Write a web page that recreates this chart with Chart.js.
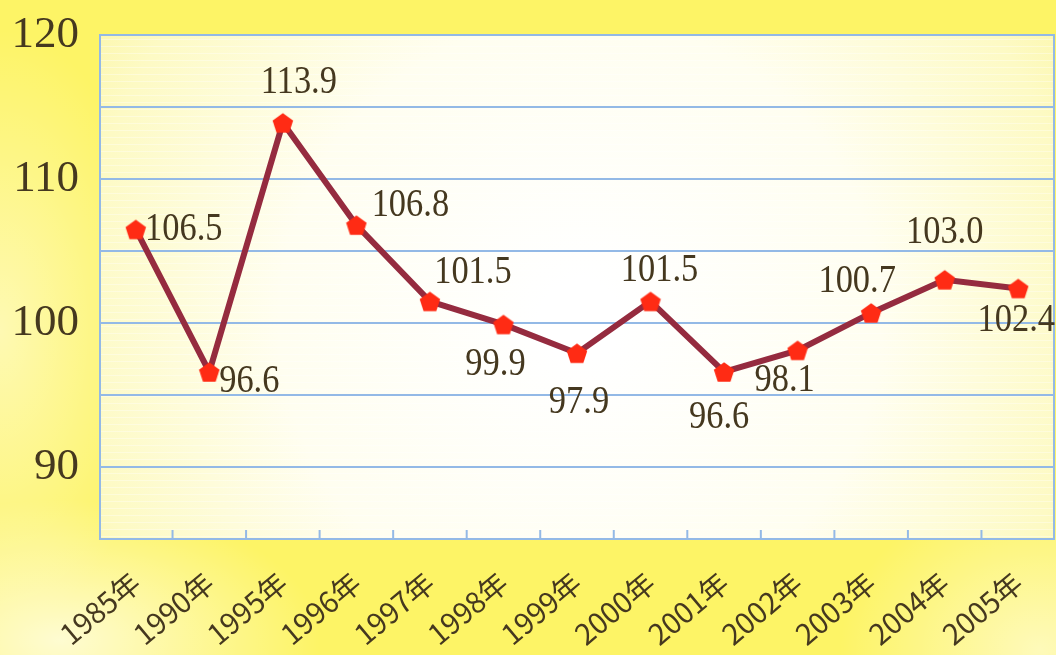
<!DOCTYPE html>
<html>
<head>
<meta charset="utf-8">
<script src="https://cdn.jsdelivr.net/npm/chart.js@4"></script>
<style>
  html, body { margin: 0; padding: 0; }
  body {
    width: 1056px; height: 655px; overflow: hidden;
    background:
      radial-gradient(ellipse 260px 140px at 60px 640px, rgba(255,255,255,0.7), rgba(255,255,255,0) 100%),
      radial-gradient(ellipse 200px 160px at 1040px 650px, rgba(255,255,255,0.55), rgba(255,255,255,0) 100%),
      radial-gradient(ellipse 160px 300px at 0px 330px, rgba(255,255,255,0.5), rgba(255,255,255,0) 100%),
      #fdf466;
  }
  canvas { display: block; }
</style>
</head>
<body>
<canvas id="chart" width="1056" height="655"></canvas>
<script>
// data
const years = ['1985年', '1990年', '1995年', '1996年', '1997年', '1998年', '1999年',
               '2000年', '2001年', '2002年', '2003年', '2004年', '2005年'];
const values = [106.5, 96.6, 113.9, 106.8, 101.5, 99.9, 97.9, 101.5, 96.6, 98.1, 100.7, 103.0, 102.4];
const yTickLabels = [90, 100, 110, 120];

// where each value label sits relative to its point (dx, dy)
const labelOffsets = [
    [48, 0], [40, 9], [16, -41], [54, -20], [43, -29], [-8, 40], [2, 49],
    [9, -31], [-5, 45], [-13, 30], [-14, -32], [0, -48], [-2, 32]
];

const textColor = '#45381f';
const gridColor = '#93b9e6';

// pentagon marker
function makePentagon(size, color) {
    const c = document.createElement('canvas');
    c.width = size; c.height = size;
    const g = c.getContext('2d');
    const r = size / 2;
    g.fillStyle = color;
    g.beginPath();
    for (let i = 0; i < 5; i++) {
        const a = -Math.PI / 2 + i * 2 * Math.PI / 5;
        const px = r + r * 0.98 * Math.cos(a);
        const py = r + 1 + r * 0.98 * Math.sin(a);
        if (i === 0) g.moveTo(px, py); else g.lineTo(px, py);
    }
    g.closePath();
    g.fill();
    return c;
}
const marker = makePentagon(22, '#ff2b14');

// plot background + faint stripes
const plotBg = {
    id: 'plotBg',
    beforeDraw(chart) {
        const { ctx, chartArea: a } = chart;
        ctx.save();
        const grad = ctx.createRadialGradient(580, 320, 40, 580, 320, 620);
        grad.addColorStop(0, '#ffffff');
        grad.addColorStop(0.45, '#fffef0');
        grad.addColorStop(0.8, '#fdfac4');
        grad.addColorStop(1, '#fbf59c');
        ctx.fillStyle = grad;
        ctx.fillRect(a.left, a.top, a.right - a.left, a.bottom - a.top);
        ctx.strokeStyle = 'rgba(255,255,255,0.35)';
        ctx.lineWidth = 1;
        for (let y = a.top + 4; y < a.bottom; y += 7) {
            ctx.beginPath();
            ctx.moveTo(a.left, y + 0.5);
            ctx.lineTo(a.right, y + 0.5);
            ctx.stroke();
        }
        ctx.restore();
    }
};

// inner tick marks at category boundaries + box border
const boxTicks = {
    id: 'boxTicks',
    afterDatasetsDraw(chart) {
        const { ctx, chartArea: a, scales: { x } } = chart;
        ctx.save();
        ctx.strokeStyle = gridColor;
        ctx.lineWidth = 2;
        ctx.strokeRect(a.left + 1, a.top, a.right - a.left - 2, a.bottom - a.top);
        for (let i = 1; i < years.length; i++) {
            const bx = (x.getPixelForValue(i - 1) + x.getPixelForValue(i)) / 2;
            ctx.beginPath();
            ctx.moveTo(bx, a.bottom);
            ctx.lineTo(bx, a.bottom - 9);
            ctx.stroke();
        }
        ctx.restore();
    }
};

// value labels
const valueLabels = {
    id: 'valueLabels',
    afterDatasetsDraw(chart) {
        const { ctx } = chart;
        const meta = chart.getDatasetMeta(0);
        ctx.save();
        ctx.fillStyle = textColor;
        ctx.font = '41px "Liberation Serif", serif';
        ctx.textAlign = 'center';
        ctx.textBaseline = 'middle';
        meta.data.forEach((pt, i) => {
            const [dx, dy] = labelOffsets[i];
            ctx.save();
            ctx.translate(pt.x + dx, pt.y + dy);
            ctx.scale(0.84, 1);
            ctx.fillText(values[i].toFixed(1), 0, 0);
            ctx.restore();
        });
        ctx.restore();
    }
};

new Chart(document.getElementById('chart'), {
    type: 'line',
    data: {
        labels: years,
        datasets: [{
            data: values,
            borderColor: '#952b3f',
            borderWidth: 6,
            pointStyle: marker,
            pointRadius: 11,
            pointHoverRadius: 11,
            tension: 0,
            clip: false
        }]
    },
    options: {
        responsive: false,
        animation: false,
        layout: { autoPadding: false, padding: { top: 35, right: 1, left: 0, bottom: 0 } },
        plugins: {
            legend: { display: false },
            tooltip: { enabled: false }
        },
        scales: {
            x: {
                offset: true,
                grid: { display: false },
                border: { display: false },
                afterFit(scale) {
                    scale.height = 116;
                    scale.paddingLeft = 0;
                    scale.paddingRight = 0;
                },
                ticks: {
                    autoSkip: false,
                    minRotation: 40,
                    maxRotation: 40,
                    padding: 18,
                    color: textColor,
                    font: { size: 29, family: '"Noto Sans CJK SC", sans-serif' }
                }
            },
            y: {
                min: 85,
                max: 120,
                afterFit(scale) {
                    scale.width = 99;
                    scale.paddingTop = 0;
                    scale.paddingBottom = 0;
                },
                grid: { color: gridColor, lineWidth: 2, drawTicks: false },
                border: { display: false },
                ticks: {
                    stepSize: 5,
                    padding: 20,
                    color: textColor,
                    font: { size: 45, family: '"Liberation Serif", serif' },
                    callback: v => yTickLabels.includes(v) ? v : ''
                }
            }
        }
    },
    plugins: [plotBg, boxTicks, valueLabels]
});
</script>
</body>
</html>
